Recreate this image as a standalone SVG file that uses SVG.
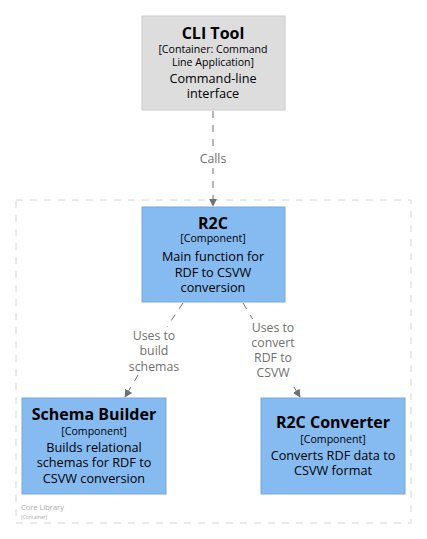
<svg xmlns="http://www.w3.org/2000/svg" width="427" height="539" viewBox="0 0 427 539">
<defs>
<style>
text{font-family:"Open Sans","Noto Sans","DejaVu Sans",sans-serif;text-anchor:middle}
.t{font-size:16px;font-weight:bold;fill:#000}
.s{font-size:10.6px;fill:#000}
.d{font-size:12.7px;fill:#000}
.l{font-size:12.3px;fill:#707070}
.comp{fill:#85bbf0;stroke:#78a8d8;stroke-width:1}
.cont{fill:#dddddd;stroke:#cccccc;stroke-width:1}
.edge{stroke:#707070;stroke-width:1;fill:none;stroke-dasharray:7,7}
</style>
<marker id="ah" viewBox="0 0 10 10" refX="9" refY="5" markerWidth="8" markerHeight="8" orient="auto" markerUnits="userSpaceOnUse">
<path d="M0,0 L10,5 L0,10 Z" fill="#707070"/>
</marker>
</defs>
<rect width="427" height="539" fill="#ffffff"/>
<g id="boundary">
<rect x="16" y="200" width="395" height="323" fill="none" stroke="#d4d4d4" stroke-width="1" stroke-dasharray="7,7"/>
<text x="21" y="510" style="font-size:7.5px;fill:#aaaaaa;text-anchor:start">Core Library</text>
<text x="21" y="519" style="font-size:5px;fill:#aaaaaa;text-anchor:start">[Container]</text>
</g>
<g id="connectors">
<line class="edge" x1="213" y1="111" x2="213" y2="206" marker-end="url(#ah)"/>
<rect x="195" y="150" width="36" height="18" fill="#ffffff"/>
<text class="l" x="213" y="163">Calls</text>
<path class="edge" d="M183,303 L167,327 M138,375 L125,397" marker-end="url(#ah)"/>
<text class="l" x="154" y="340">Uses to</text>
<text class="l" x="154" y="355">build</text>
<text class="l" x="154" y="371">schemas</text>
<path class="edge" d="M243,303 L300,397" marker-end="url(#ah)"/>
<rect x="248" y="319" width="50" height="62" fill="#ffffff"/>
<text class="l" x="273" y="332">Uses to</text>
<text class="l" x="273" y="347">convert</text>
<text class="l" x="273" y="362">RDF to</text>
<text class="l" x="273" y="377">CSVW</text>
</g>
<g id="cli-tool">
<rect class="cont" x="142" y="16" width="143" height="94"/>
<text class="t" x="213" y="39">CLI Tool</text>
<text class="s" x="213" y="53">[Container: Command</text>
<text class="s" x="213" y="66">Line Application]</text>
<text class="d" x="213" y="83">Command-line</text>
<text class="d" x="213" y="98">interface</text>
</g>
<g id="r2c">
<rect class="comp" x="142" y="207" width="143" height="95"/>
<text class="t" x="213" y="229">R2C</text>
<text class="s" x="213" y="242">[Component]</text>
<text class="d" x="213" y="261">Main function for</text>
<text class="d" x="213" y="277">RDF to CSVW</text>
<text class="d" x="213" y="292">conversion</text>
</g>
<g id="schema-builder">
<rect class="comp" x="22" y="398" width="144" height="96"/>
<text class="t" x="94" y="420">Schema Builder</text>
<text class="s" x="94" y="435">[Component]</text>
<text class="d" x="94" y="452">Builds relational</text>
<text class="d" x="94" y="467">schemas for RDF to</text>
<text class="d" x="94" y="483">CSVW conversion</text>
</g>
<g id="r2c-converter">
<rect class="comp" x="261" y="398" width="144" height="96"/>
<text class="t" x="333" y="428">R2C Converter</text>
<text class="s" x="333" y="443">[Component]</text>
<text class="d" x="333" y="460">Converts RDF data to</text>
<text class="d" x="333" y="475">CSVW format</text>
</g>
</svg>
